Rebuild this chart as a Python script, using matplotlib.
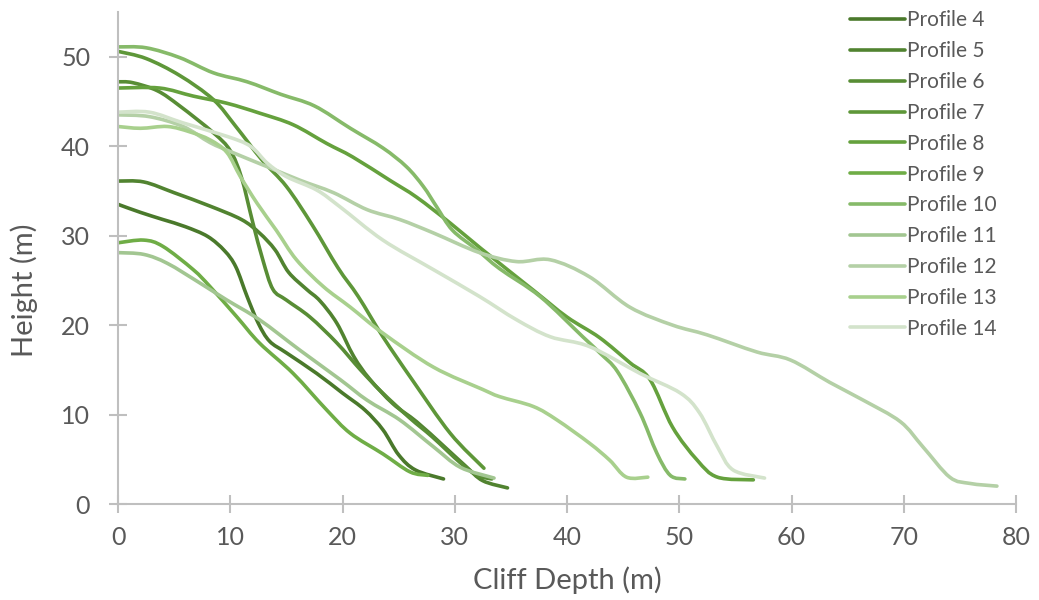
import numpy as np
import matplotlib
matplotlib.use('Agg')
import matplotlib.pyplot as plt
from matplotlib.path import Path
from matplotlib.patches import PathPatch
from matplotlib.lines import Line2D

# cliff profiles: depth (m) vs height (m)
p4_x = [0, 2, 4, 6, 8, 9.5, 10.5, 11.5, 12.5, 13.5, 15, 17.7, 20, 22, 23.6, 25, 26.5, 29]
p4_y = [33.5, 32.6, 31.8, 31, 29.9, 28.3, 26.5, 23.2, 20.2, 18.2, 16.9, 14.6, 12.4, 10.5, 8.3, 5.5, 3.8, 2.8]

p5_x = [0, 2.3, 5, 8.2, 11, 12.6, 14, 15.2, 16.8, 18, 19.5, 21, 22.4, 24.5, 26.6, 29, 31, 32.5, 34.7]
p5_y = [36.1, 36, 34.8, 33.3, 31.8, 30.3, 28.4, 25.9, 24, 22.7, 20.2, 16.5, 14, 11.2, 9.2, 6.5, 4.2, 2.6, 1.8]

p6_x = [0, 1.3, 3.5, 5.5, 8.5, 10, 11, 12, 12.9, 13.8, 15, 17.1, 19.5, 21.6, 23.5, 26, 28, 30.5, 32, 33.3]
p6_y = [47.2, 47.1, 46.2, 44.5, 41.5, 39.5, 36.5, 31.5, 27.3, 24, 22.8, 20.9, 18, 15, 12.5, 9.6, 7.5, 4.6, 3.2, 2.8]

p7_x = [0, 2.5, 5.5, 8.5, 10.5, 12.8, 15, 17.3, 19.6, 21.4, 23.6, 26.2, 29.6, 32.6]
p7_y = [50.6, 49.8, 47.9, 45.2, 42.2, 38.5, 35.5, 31.2, 26.4, 23.2, 18.7, 13.9, 7.9, 4.0]

p8_x = [0, 3.7, 6.7, 9.7, 12.6, 15.6, 18.6, 20.9, 24.2, 26.6, 29.6, 32.3, 37, 40, 42.9, 45.6, 47.4, 49.4, 51.6, 53.4, 56.6]
p8_y = [46.5, 46.5, 45.6, 44.8, 43.7, 42.4, 40.3, 38.8, 36.2, 34.3, 31.4, 28.6, 23.9, 20.9, 18.6, 15.8, 13.9, 8.6, 4.9, 3.0, 2.7]

p9_x = [0, 2.3, 4, 6.7, 8.2, 10.6, 12.6, 15.6, 18.6, 20.7, 23.6, 26, 27.6]
p9_y = [29.2, 29.5, 28.8, 26.2, 24.3, 20.9, 18, 14.6, 10.5, 7.9, 5.6, 3.6, 3.2]

p10_x = [0, 2.5, 5.5, 8.5, 11.5, 14.5, 17.5, 20.7, 23.6, 25.7, 27.2, 28.4, 29.8, 32, 34, 37.6, 41.4, 43, 44.5, 46.5, 48, 49.2, 50.5]
p10_y = [51.1, 51, 49.9, 48.2, 47.2, 45.8, 44.5, 42, 39.8, 37.7, 35.5, 33.2, 30.6, 28.4, 26.3, 23.2, 18.7, 16.8, 14.8, 10.2, 5.7, 3.2, 2.8]

p11_x = [0, 2.3, 4.4, 7.3, 9.7, 12.6, 16.2, 19.8, 22.2, 25.1, 28.1, 30.5, 33.5]
p11_y = [28.1, 27.9, 26.9, 24.7, 22.8, 20.6, 17.2, 13.9, 11.6, 9.4, 6.4, 4.1, 2.9]

p12_x = [0, 2.8, 5.8, 8.2, 10.2, 13.3, 16.2, 19.2, 22.2, 25.1, 28.1, 32.2, 35.5, 38.5, 42, 45.6, 49.4, 52.5, 56.9, 59.9, 63.4, 66.4, 69.7, 71.7, 74.1, 75.9, 78.3]
p12_y = [43.5, 43.3, 42.2, 40.4, 39.3, 37.7, 36.2, 34.8, 32.9, 31.8, 30.3, 28.1, 27.1, 27.3, 25.4, 22, 20, 18.9, 17, 16.1, 13.6, 11.6, 9.2, 6.4, 3.0, 2.3, 2.0]

p13_x = [0, 2, 4.4, 6.4, 8.2, 9.7, 10.9, 12.4, 14.1, 15.9, 18.3, 20.7, 23.6, 28.1, 32.5, 34, 37, 39.1, 42, 43.8, 45.3, 47.2]
p13_y = [42.2, 42, 42.2, 41.6, 40.7, 39.3, 36.6, 33.6, 30.6, 27.3, 24.3, 22, 19.1, 15.3, 12.8, 12, 10.9, 9.4, 6.8, 4.9, 3.0, 3.0]

p14_x = [0, 2.8, 5.8, 9.7, 11.8, 13.3, 15, 17.7, 19.8, 23.6, 28.1, 32.2, 35.5, 38.5, 42, 46.5, 50.1, 51.8, 53.4, 54.8, 57.6]
p14_y = [43.8, 43.8, 42.6, 41.1, 40, 38.1, 36.6, 35.1, 33.2, 29.5, 26.2, 23.2, 20.6, 18.7, 17.6, 14.6, 12.4, 10.2, 6.4, 3.8, 2.9]

labels = ['Profile 4', 'Profile 5', 'Profile 6', 'Profile 7', 'Profile 8', 'Profile 9',
          'Profile 10', 'Profile 11', 'Profile 12', 'Profile 13', 'Profile 14']
colors = ['#4a792b', '#518330', '#588d35', '#5e9739', '#65a13d', '#6fad46',
          '#86ba69', '#a2c691', '#b4d0a6', '#a8d08d', '#d3e3cb']
series = [(p4_x, p4_y), (p5_x, p5_y), (p6_x, p6_y), (p7_x, p7_y), (p8_x, p8_y), (p9_x, p9_y),
          (p10_x, p10_y), (p11_x, p11_y), (p12_x, p12_y), (p13_x, p13_y), (p14_x, p14_y)]


def smooth_path(xs, ys):
    # Catmull-Rom style bezier through the points (spreadsheet "smoothed line")
    pts = np.column_stack([xs, ys]).astype(float)
    n = len(pts)
    verts = [pts[0]]
    codes = [Path.MOVETO]
    for i in range(n - 1):
        p0 = pts[i - 1] if i > 0 else pts[i]
        p1 = pts[i]
        p2 = pts[i + 1]
        p3 = pts[i + 2] if i + 2 < n else pts[i + 1]
        verts += [p1 + (p2 - p0) / 6, p2 - (p3 - p1) / 6, p2]
        codes += [Path.CURVE4] * 3
    return Path(verts, codes)


plt.rcParams['font.family'] = ['Lato', 'DejaVu Sans']
grey = '#595959'
axis_col = '#bfbfbf'

fig = plt.figure(figsize=(10.39, 6.0), dpi=100)
ax = fig.add_axes([118 / 1039, 96 / 600, 898 / 1039, 492 / 600])

handles = []
for (xs, ys), c, lab in zip(series, colors, labels):
    patch = PathPatch(smooth_path(xs, ys), facecolor='none', edgecolor=c, lw=2.6,
                      capstyle='round', joinstyle='round')
    ax.add_patch(patch)
    handles.append(Line2D([], [], color=c, lw=2.6, solid_capstyle='round', label=lab))

ax.set_xlim(0, 80)
ax.set_ylim(0, 55)
ax.set_xticks(np.arange(0, 81, 10))
ax.set_yticks(np.arange(0, 51, 10))

for side in ['top', 'right']:
    ax.spines[side].set_visible(False)
for side in ['left', 'bottom']:
    ax.spines[side].set_color(axis_col)
    ax.spines[side].set_linewidth(1.5)

ax.tick_params(axis='both', direction='inout', length=13, width=1.5, color=axis_col,
               labelsize=18, labelcolor=grey)
ax.tick_params(axis='y', pad=13.5)
ax.tick_params(axis='x', pad=9)

ax.set_xlabel('Cliff Depth (m)', fontsize=21, color=grey, labelpad=13)
ax.set_ylabel('Height (m)', fontsize=21, color=grey)
ax.yaxis.set_label_coords(-0.089, 0.435)

fig.legend(handles=handles, loc='upper left', bbox_to_anchor=(840 / 1039, 1.0),
           frameon=False, fontsize=15, labelcolor=grey, handlelength=2.6,
           handletextpad=0.1, labelspacing=0.52, borderpad=0.0)

fig.savefig('out.png', dpi=100)
